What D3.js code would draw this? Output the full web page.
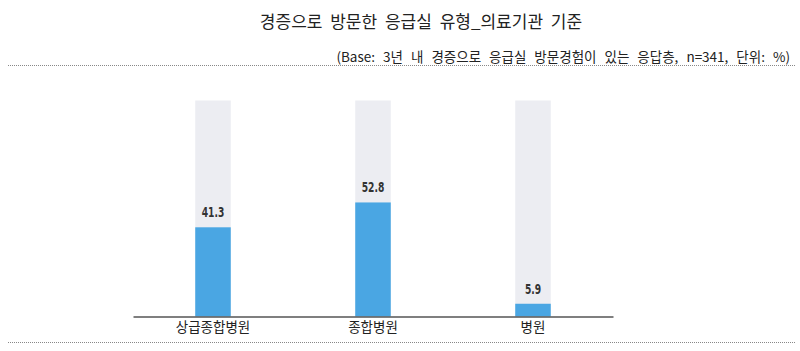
<!DOCTYPE html>
<html>
<head>
<meta charset="utf-8">
<script src="https://cdn.jsdelivr.net/npm/d3@7"></script>
<style>
  body { margin: 0; background: #fff; }
  svg text { font-family: "Noto Sans CJK KR", "Noto Sans", sans-serif; fill: #222; }
</style>
</head>
<body>
<div id="okvir"></div>
<script>
const kategorije = ["상급종합병원", "종합병원", "병원"]
const vrijednosti = [41.3, 52.8, 5.9]
const maksimum = 100
const naslov = "경증으로 방문한 응급실 유형_의료기관 기준"
const podnaslov = "(Base: 3년 내 경증으로 응급실 방문경험이 있는 응답층, n=341, 단위: %)"

const sirina = 800, visina = 351
const svg = d3.select("#okvir").append("svg")
  .attr("width", sirina).attr("height", visina)

svg.append("text")
  .attr("x", 421).attr("y", 28)
  .attr("text-anchor", "middle")
  .style("font-size", "17px")
  .style("word-spacing", "4px")
  .text(naslov)

svg.append("text")
  .attr("x", 790).attr("y", 62)
  .attr("text-anchor", "end")
  .style("font-size", "13.5px")
  .style("word-spacing", "5px")
  .text(podnaslov)

// tockaste linije
;[65.5, 342.5].forEach(y => {
  svg.append("line")
    .attr("x1", 8).attr("x2", 796)
    .attr("y1", y).attr("y2", y)
    .attr("stroke", "#888").attr("stroke-width", 1)
    .attr("stroke-dasharray", "1,1")
})

const x = d3.scaleBand()
  .domain(kategorije)
  .range([133, 613])
  .paddingInner(0.778)
  .paddingOuter(0.389)

const y = d3.scaleLinear()
  .domain([0, maksimum])
  .range([316.5, 100.5])

const podaci = kategorije.map((k, i) => ({ k, v: vrijednosti[i] }))

svg.selectAll(".pozadina")
  .data(podaci)
  .join("rect")
    .attr("class", "pozadina")
    .attr("x", d => x(d.k))
    .attr("width", x.bandwidth())
    .attr("y", y(maksimum))
    .attr("height", y(0) - y(maksimum))
    .attr("fill", "#ECEDF2")

svg.selectAll(".stupac")
  .data(podaci)
  .join("rect")
    .attr("class", "stupac")
    .attr("x", d => x(d.k))
    .attr("width", x.bandwidth())
    .attr("y", d => y(d.v))
    .attr("height", d => y(0) - y(d.v))
    .attr("fill", "#4AA6E3")

svg.selectAll(".vrijednost")
  .data(podaci)
  .join("text")
    .attr("class", "vrijednost")
    .attr("transform", d => `translate(${x(d.k) + x.bandwidth() / 2}, ${y(d.v) - 10}) scale(0.85, 1.1)`)
    .attr("text-anchor", "middle")
    .style("font-family", "'DejaVu Sans Condensed', 'DejaVu Sans', sans-serif")
    .style("font-stretch", "condensed")
    .style("font-weight", "bold")
    .style("font-size", "12px")
    .style("fill", "#333")
    .text(d => d.v.toFixed(1))

const os = svg.append("g")
  .attr("transform", `translate(0, ${y(0)})`)
  .call(d3.axisBottom(x).tickSize(0).tickPadding(6))
os.select(".domain").attr("stroke", "#555").attr("stroke-width", 1.3)
os.selectAll(".tick text")
  .style("font-family", "'Noto Sans CJK KR', sans-serif")
  .style("font-size", "13.5px")
  .style("fill", "#222")
</script>
</body>
</html>
